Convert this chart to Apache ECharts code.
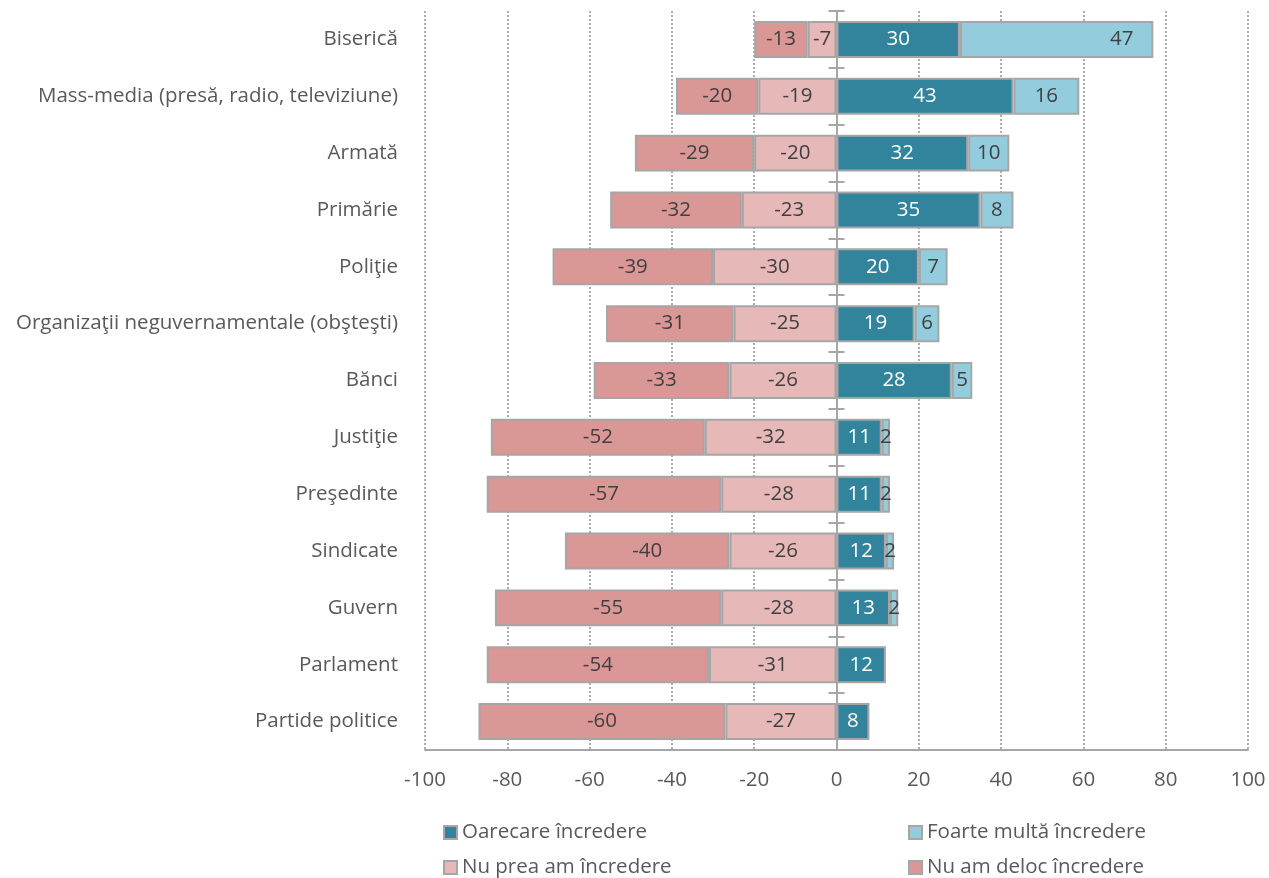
<!DOCTYPE html>
<html>
<head>
<meta charset="utf-8">
<script src="https://cdn.jsdelivr.net/npm/echarts@6/dist/echarts.min.js"></script>
<style>
html,body{margin:0;padding:0;background:#fff;}
#chart{width:1269px;height:878px;}
</style>
</head>
<body>
<div id="chart"></div>
<script>
const categories = ['Biserică','Mass-media (presă, radio, televiziune)','Armată','Primărie','Poliţie','Organizaţii neguvernamentale (obşteşti)','Bănci','Justiţie','Preşedinte','Sindicate','Guvern','Parlament','Partide politice'];
const oarecare = [30,43,32,35,20,19,28,11,11,12,13,12,8];
const foarteMulta = [47,16,10,8,7,6,5,2,2,2,2,'-','-'];
const nuPrea = [-7,-19,-20,-23,-30,-25,-26,-32,-28,-26,-28,-31,-27];
const deloc = [-13,-20,-29,-32,-39,-31,-33,-52,-57,-40,-55,-54,-60];
const xTicks = {min:-100, max:100, interval:20};

const FONT = 'Open Sans';
const GRAY = '#A6A6A6';
const TXT = '#595959';

function barSeries(name, data, color, labelColor){
  return {
    name, type:'bar', stack:'total', data, yAxisIndex:0,
    barCategoryGap:'35%',
    itemStyle:{color, borderColor:GRAY, borderWidth:2},
    label:{show:true, position:'inside', color:labelColor, fontFamily:FONT, fontSize:20.5},
    emphasis:{disabled:true}
  };
}

// the first "Foarte multă" label sits near the end of its bar in the reference
const foarteMultaData = foarteMulta.map((v, i) => i === 0
  ? {value:v, label:{position:'insideRight', distance:20}}
  : v);

const yBase = {type:'category', data:categories, inverse:true, position:'left'};

const option = {
  animation:false,
  textStyle:{fontFamily:FONT},
  grid:{left:425, right:21, top:11, bottom:128, containLabel:false},
  xAxis:{
    type:'value', min:xTicks.min, max:xTicks.max, interval:xTicks.interval,
    axisLine:{show:true, onZero:false, lineStyle:{color:GRAY, width:2}},
    axisTick:{show:false},
    axisLabel:{color:TXT, fontSize:20.5, fontFamily:FONT, margin:20},
    splitLine:{show:true, lineStyle:{color:'#ADADAD', width:2, type:[2,2]}}
  },
  yAxis:[
    Object.assign({}, yBase, {
      axisLine:{show:false}, axisTick:{show:false},
      axisLabel:{color:TXT, fontSize:20.5, fontFamily:FONT, margin:27}
    }),
    Object.assign({}, yBase, {
      offset:-411.5,
      axisLine:{show:true, onZero:false, lineStyle:{color:GRAY, width:2}},
      axisTick:{show:true, length:8, lineStyle:{color:GRAY, width:2}},
      axisLabel:{show:false}
    }),
    Object.assign({}, yBase, {
      offset:-411.5,
      axisLine:{show:false, onZero:false},
      axisTick:{show:true, inside:true, length:8, lineStyle:{color:GRAY, width:2}},
      axisLabel:{show:false}
    })
  ],
  legend:[
    {data:['Oarecare încredere'], left:443, top:822},
    {data:['Foarte multă încredere'], left:908, top:822},
    {data:['Nu prea am încredere'], left:443, top:857},
    {data:['Nu am deloc încredere'], left:908, top:857}
  ].map(l => Object.assign(l, {
    padding:0, itemWidth:13, itemHeight:13, icon:'rect',
    textStyle:{color:TXT, fontSize:20.5, fontFamily:FONT}
  })),
  series:[
    barSeries('Oarecare încredere', oarecare, '#31849B', '#FFFFFF'),
    barSeries('Foarte multă încredere', foarteMultaData, '#93CDDD', '#404040'),
    barSeries('Nu prea am încredere', nuPrea, '#E6B9B8', '#404040'),
    barSeries('Nu am deloc încredere', deloc, '#D99795', '#404040')
  ]
};

const chart = echarts.init(document.getElementById('chart'), null, {renderer:'canvas'});
chart.setOption(option);
</script>
</body>
</html>
